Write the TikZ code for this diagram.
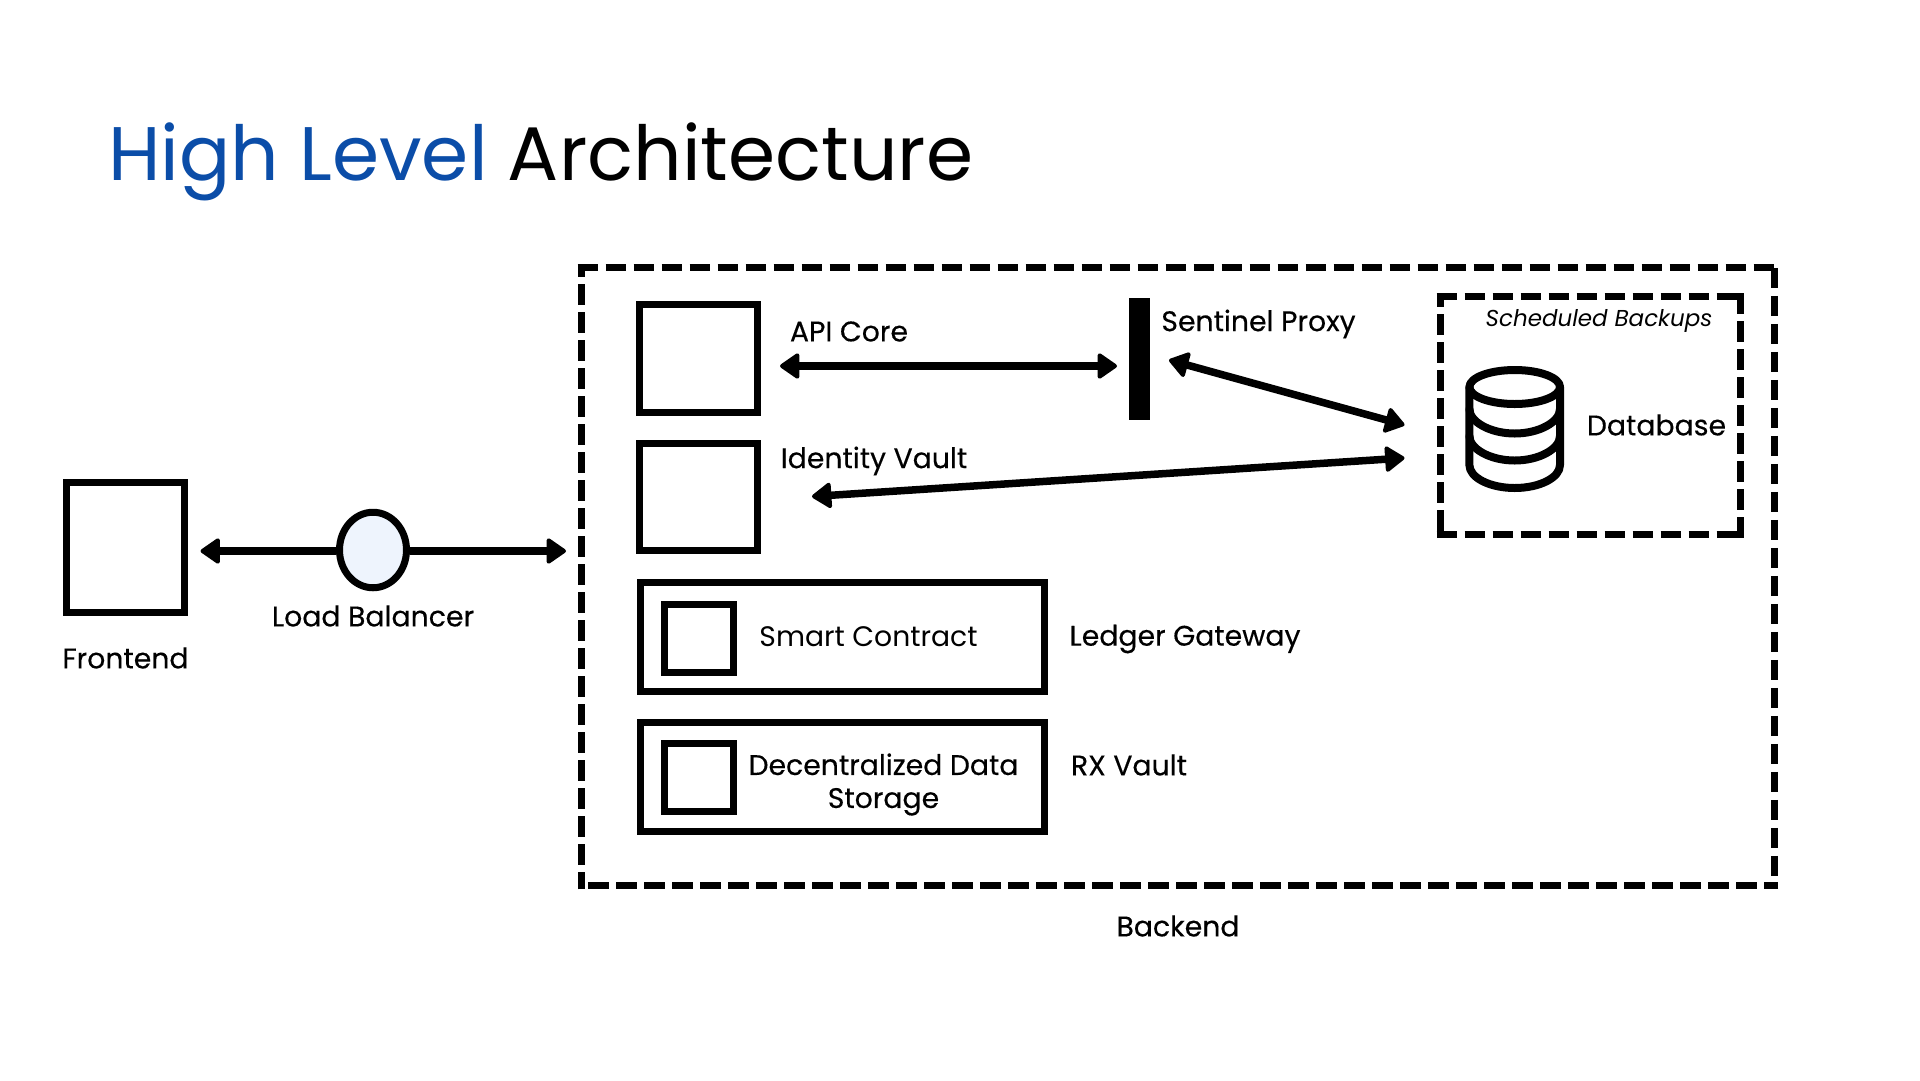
\documentclass[tikz,border=0pt]{standalone}
\usepackage{fontspec}
\setmainfont{Poppins}
\newfontfamily\labfont{Poppins}[FakeBold=0.3]
\usetikzlibrary{arrows.meta,shapes.geometric}
\definecolor{titleblue}{HTML}{0B4DA8}
\definecolor{lbfill}{HTML}{EEF4FD}
\tikzset{
  boxnode/.style={draw=black,line width=7pt,fill=white,inner sep=0pt,rectangle},
  dashedge/.style={draw=black,line width=7pt,dash pattern=on 20.5pt off 7.5pt,line cap=butt},
  frame/.style={inner sep=0pt,rectangle},
  lab/.style={font=\labfont\fontsize{28.3}{33}\selectfont,inner sep=0pt,text=black,align=center},
  conn/.style={line width=7.5pt,{Triangle[length=21pt,width=28pt,round,line width=4pt]}-{Triangle[length=21pt,width=28pt,round,line width=4pt]}},
  connone/.style={line width=7.5pt,-{Triangle[length=21pt,width=28pt,round,line width=4pt]}},
  dbline/.style={line width=8pt,line join=round,line cap=round}
}
\begin{document}
\begin{tikzpicture}[x=1pt,y=-1pt]
\useasboundingbox[fill=white] (0,0) rectangle (1920,1080);
\node[anchor=base west,inner sep=0pt,font=\fontsize{75.9}{90}\selectfont] (title) at (108,180) {\textcolor{titleblue}{High Level} Architecture};

\node[boxnode,minimum width=117.5pt,minimum height=130pt] (front) at (125.25,547.5) {};
\coordinate (fa) at (200.5,551);
\coordinate (fb) at (566,551);
\node[draw=black,line width=7pt,fill=lbfill,ellipse,inner sep=0pt,minimum width=67pt,minimum height=75.5pt] (lb) at (373,550) {};
\draw[connone] (lb.west |- fa) -- (fa);
\draw[connone] (lb.east |- fb) -- (fb);
\node[lab] (lfront) at (125.5,658) {Frontend};
\node[lab] (llb) at (373,616) {Load Balancer};

\node[frame,minimum width=1193.3pt,minimum height=618.1pt] (back) at (1177.85,576.75) {};
\draw[dashedge] (577.7,267.7) -- (1774.5,267.7);
\draw[dashedge] (1774.5,267.8) -- (1774.5,889.3);
\draw[dashedge,dash phase=6.5pt] (1778,885.8) -- (585,885.8);
\draw[dashedge,dash phase=3.5pt] (581.2,889.3) -- (581.2,264.3);
\node[lab] (lback) at (1178,926) {Backend};

\node[boxnode,minimum width=118pt,minimum height=108pt] (api) at (698.4,358.4) {};
\node[boxnode,minimum width=118pt,minimum height=107pt] (idv) at (698.4,497) {};
\node[boxnode,minimum width=404pt,minimum height=109pt] (sc) at (842,636.5) {};
\node[boxnode,minimum width=69pt,minimum height=68pt] (sci) at (698.5,638) {};
\node[boxnode,minimum width=404pt,minimum height=109pt] (ds) at (842,776.5) {};
\node[boxnode,minimum width=69pt,minimum height=68pt] (dsi) at (698.5,777.5) {};
\node[fill=black,inner sep=0pt,minimum width=21pt,minimum height=122pt] (sent) at (1139.5,359) {};

\node[lab] (lapi) at (849,331.5) {API Core};
\node[lab] (lsent) at (1258.5,324) {Sentinel Proxy};
\node[lab] (lidv) at (874,461) {Identity Vault};
\node[lab,font=\fontsize{28.2}{33}\selectfont] (lsc) at (868.5,637) {Smart Contract};
\node[lab] (lds) at (883.5,784.5) {Decentralized Data\\Storage};
\node[lab] (lgw) at (1185,639) {Ledger Gateway};
\node[lab] (lrx) at (1129,765) {RX Vault};

\node[frame,minimum width=300.8pt,minimum height=238.1pt] (sched) at (1590.4,415.75) {};
\draw[dashedge] (1436.5,296.7) -- (1740,296.7);
\draw[dashedge] (1740.8,293.3) -- (1740.8,538.3);
\draw[dashedge] (1436.5,534.8) -- (1740,534.8);
\draw[dashedge,dash phase=7pt] (1440,293.3) -- (1440,538.3);
\node[lab,font=\fontsize{23}{28}\selectfont\itshape] (lsched) at (1599,321) {Scheduled Backups};
\node[lab] (ldb) at (1656.5,425) {Database};

\coordinate (a1) at (780,366);
\coordinate (a2) at (1117,366);
\draw[conn] (a1) -- (a2);
\coordinate (b1) at (1169,360);
\coordinate (b2) at (1404.5,425);
\draw[conn] (b1) -- (b2);
\coordinate (c1) at (812,496.5);
\coordinate (c2) at (1404.5,458);
\draw[conn] (c1) -- (c2);

% database icon
\draw[dbline] (1514.7,387) ellipse [x radius=45.3,y radius=17];
\draw[dbline] (1469.4,387) -- (1469.4,465) .. controls (1469.4,477.7) and (1490,488) .. (1514.7,488) .. controls (1539.4,488) and (1560,477.7) .. (1560,465) -- (1560,387);
\draw[dbline] (1469.4,409) .. controls (1469.4,421.7) and (1490,433.5) .. (1514.7,433.5) .. controls (1539.4,433.5) and (1560,421.7) .. (1560,409);
\draw[dbline] (1469.4,436) .. controls (1469.4,448.7) and (1490,460.5) .. (1514.7,460.5) .. controls (1539.4,460.5) and (1560,448.7) .. (1560,436);
\end{tikzpicture}
\end{document}
